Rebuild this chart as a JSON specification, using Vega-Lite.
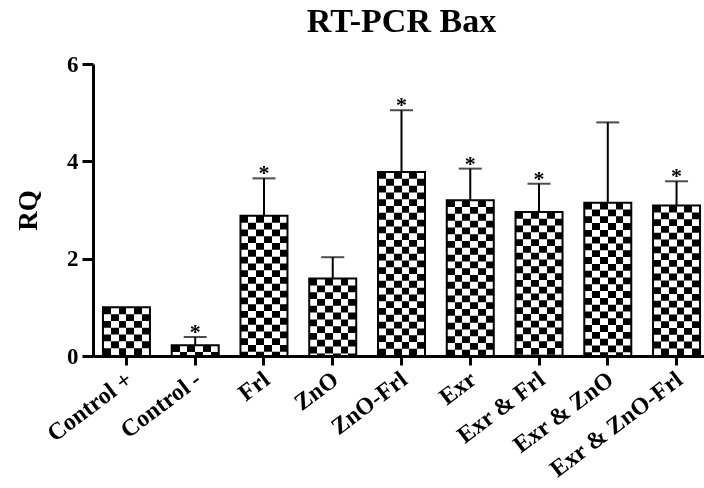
{
  "$schema": "https://vega.github.io/schema/vega-lite/v6.json",
  "autosize": {"type": "none"},
  "padding": {"left": 93, "top": 64, "right": 0, "bottom": 132},
  "width": 617,
  "height": 292,
  "background": "white",
  "title": {"text": "RT-PCR Bax", "font": "Liberation Serif", "fontSize": 34, "fontWeight": "bold", "color": "black", "anchor": "middle", "frame": "group", "baseline": "alphabetic", "offset": 0, "dy": 13},
  "data": {"values": [
    {"group": "Control +", "value": 1.0, "err": 1.0, "star": ""},
    {"group": "Control -", "value": 0.22, "err": 0.39, "star": "*"},
    {"group": "Frl", "value": 2.88, "err": 3.65, "star": "*"},
    {"group": "ZnO", "value": 1.59, "err": 2.03, "star": ""},
    {"group": "ZnO-Frl", "value": 3.78, "err": 5.05, "star": "*"},
    {"group": "Exr", "value": 3.2, "err": 3.85, "star": "*"},
    {"group": "Exr & Frl", "value": 2.96, "err": 3.54, "star": "*"},
    {"group": "Exr & ZnO", "value": 3.15, "err": 4.8, "star": ""},
    {"group": "Exr & ZnO-Frl", "value": 3.09, "err": 3.59, "star": "*"}
  ]},
  "encoding": {
    "x": {"field": "group", "type": "nominal", "sort": null, "title": null,
      "scale": {"paddingInner": 0.317, "paddingOuter": 0.145}}
  },
  "layer": [
    {
      "mark": {"type": "bar", "width": 47, "fill": "white", "stroke": null},
      "encoding": {"y": {"field": "value", "type": "quantitative", "title": "RQ", "scale": {"domain": [0, 6], "nice": false}, "axis": {"values": [0, 2, 4, 6]}}}
    },
    {
      "mark": {"type": "rule", "strokeWidth": 47, "color": "black", "strokeDash": [6.8, 6.8], "strokeCap": "butt"},
      "encoding": {
        "y": {"field": "value", "type": "quantitative", "title": "RQ", "scale": {"domain": [0, 6], "nice": false}, "axis": {"values": [0, 2, 4, 6]}},
        "y2": {"datum": 0}
      }
    },
    {
      "mark": {"type": "bar", "width": 47, "stroke": null, "blend": "difference",
        "fill": {"gradient": "linear", "x1": 0, "y1": 0, "x2": 1, "y2": 0, "stops": [
          {"offset": 0, "color": "black"}, {"offset": 0.1667, "color": "black"},
          {"offset": 0.1667, "color": "white"}, {"offset": 0.3333, "color": "white"},
          {"offset": 0.3333, "color": "black"}, {"offset": 0.5, "color": "black"},
          {"offset": 0.5, "color": "white"}, {"offset": 0.6667, "color": "white"},
          {"offset": 0.6667, "color": "black"}, {"offset": 0.8333, "color": "black"},
          {"offset": 0.8333, "color": "white"}, {"offset": 1, "color": "white"}
        ]}},
      "encoding": {"y": {"field": "value", "type": "quantitative", "title": "RQ", "scale": {"domain": [0, 6], "nice": false}, "axis": {"values": [0, 2, 4, 6]}}}
    },
    {
      "mark": {"type": "bar", "width": 47, "fillOpacity": 0, "stroke": "black", "strokeWidth": 2},
      "encoding": {"y": {"field": "value", "type": "quantitative", "title": "RQ", "scale": {"domain": [0, 6], "nice": false}, "axis": {"values": [0, 2, 4, 6]}}}
    },
    {
      "mark": {"type": "rule", "color": "black", "strokeWidth": 2},
      "encoding": {
        "y": {"field": "value", "type": "quantitative", "title": "RQ", "scale": {"domain": [0, 6], "nice": false}, "axis": {"values": [0, 2, 4, 6]}},
        "y2": {"field": "err"}
      }
    },
    {
      "transform": [{"filter": "datum.err > datum.value"}],
      "mark": {"type": "tick", "color": "black", "size": 23, "thickness": 2},
      "encoding": {"y": {"field": "err", "type": "quantitative", "title": "RQ", "scale": {"domain": [0, 6], "nice": false}, "axis": {"values": [0, 2, 4, 6]}}}
    },
    {
      "mark": {"type": "text", "font": "Liberation Serif", "fontWeight": "bold", "fontSize": 22, "color": "black", "baseline": "alphabetic", "dy": 2},
      "encoding": {
        "y": {"field": "err", "type": "quantitative", "title": "RQ", "scale": {"domain": [0, 6], "nice": false}, "axis": {"values": [0, 2, 4, 6]}},
        "text": {"field": "star"}
      }
    }
  ],
  "config": {
    "view": {"stroke": null},
    "axis": {"domainColor": "black", "domainWidth": 3, "tickColor": "black", "tickWidth": 3, "labelFont": "Liberation Serif", "labelFontWeight": "bold", "labelColor": "black", "titleFont": "Liberation Serif", "titleFontWeight": "bold", "titleColor": "black", "grid": false},
    "axisY": {"tickSize": 11, "labelFontSize": 23, "labelPadding": 4, "titleFontSize": 27, "titlePadding": 24},
    "axisX": {"tickSize": 9, "labelAngle": -37, "labelFontSize": 24, "labelPadding": 2, "labelOffset": -4}
  }
}
